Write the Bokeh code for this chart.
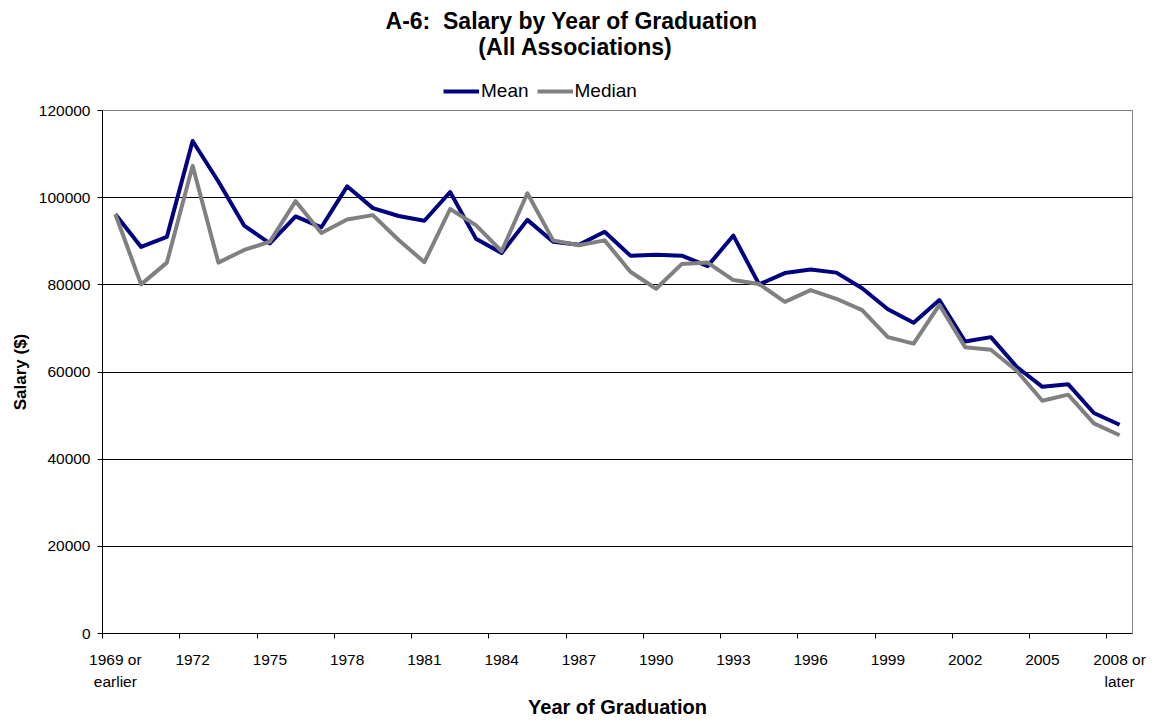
from bokeh.plotting import figure
from bokeh.models import (FixedTicker, Range1d, Label, Legend, LegendItem)
from bokeh.layouts import column
from bokeh.embed import file_html
from bokeh.resources import INLINE

# ---- data ----
categories = ["1969 or earlier"] + [str(y) for y in range(1970, 2008)] + ["2008 or later"]
mean_salary = [96200, 88700, 91000, 113000, 103700, 93600, 89500, 95700, 93200, 102600,
               97600, 95800, 94700, 101300, 90600, 87300, 94900, 89900, 89200, 92200,
               86700, 86900, 86700, 84300, 91300, 80100, 82700, 83500, 82800, 79200,
               74400, 71300, 76500, 67000, 68000, 61200, 56600, 57200, 50600, 47900]
median_salary = [96200, 80100, 85100, 107300, 85100, 88000, 89900, 99200, 91900, 95000,
                 96000, 90300, 85200, 97400, 93700, 87700, 101000, 90200, 89100, 90200,
                 83000, 79100, 84800, 85100, 81100, 80200, 76100, 78800, 76800, 74200,
                 68000, 66500, 75400, 65700, 65100, 60300, 53400, 54800, 48200, 45500]
series_names = ["Mean", "Median"]
series_colors = ["#000080", "#808080"]
y_ticks = [0, 20000, 40000, 60000, 80000, 100000, 120000]
label_step = 3
title_lines = ["A-6:\u00a0 Salary by Year of Graduation", "(All Associations)"]

FONT = "Liberation Sans"
W = 1156
TOTAL_H = 722
HEAD_H = 102
LEFT, RIGHT = 102, 24
x = list(range(len(categories)))

# ---------- header: title + legend ----------
head = figure(width=W, height=HEAD_H, output_backend="svg", toolbar_location=None,
              x_range=Range1d(LEFT, W - RIGHT), y_range=Range1d(HEAD_H, 0),
              x_axis_location=None, y_axis_location=None,
              min_border_left=LEFT, min_border_right=RIGHT,
              min_border_top=0, min_border_bottom=0)
head.grid.visible = False
head.outline_line_color = None
head.title = None

head.add_layout(Label(x=571, y=20, text=title_lines[0], text_align="center",
                      text_baseline="alphabetic", text_font=FONT, text_font_size="23px",
                      text_font_style="bold", text_color="black"))
head.add_layout(Label(x=575, y=46, text=title_lines[1], text_align="center",
                      text_baseline="alphabetic", text_font=FONT, text_font_size="23px",
                      text_font_style="bold", text_color="black"))

nan = float("nan")
dummy = [head.line([nan], [nan], line_color=c, line_width=4) for c in series_colors]
legend = Legend(items=[LegendItem(label=n, renderers=[r]) for n, r in zip(series_names, dummy)],
                orientation="horizontal", location=(341, 0),
                glyph_width=36, glyph_height=20, label_standoff=2, spacing=8,
                padding=0, margin=0, border_line_color=None, background_fill_alpha=0,
                label_text_font=FONT, label_text_font_size="19px", label_text_color="black")
head.add_layout(legend, "center")

# ---------- main chart ----------
p = figure(width=W, height=TOTAL_H - HEAD_H, output_backend="svg", toolbar_location=None,
           x_range=Range1d(-0.5, len(categories) - 0.5), y_range=Range1d(0, 120000),
           min_border_left=LEFT, min_border_right=RIGHT, min_border_top=8, min_border_bottom=89)
p.title = None
p.outline_line_color = "#808080"
p.outline_line_width = 1

p.line(x, mean_salary, line_color=series_colors[0], line_width=4, line_join="round")
p.line(x, median_salary, line_color=series_colors[1], line_width=4, line_join="round")

# x axis
label_pos = list(range(0, len(categories), label_step))
xa = p.xaxis[0]
xa.ticker = FixedTicker(ticks=label_pos, minor_ticks=[t - 0.5 for t in label_pos])
xa.major_label_overrides = {i: categories[i].replace(" or ", " or\n") for i in label_pos}
xa.major_tick_line_color = None
xa.minor_tick_line_color = "black"
xa.minor_tick_in = 0
xa.minor_tick_out = 5
xa.axis_line_color = "black"
xa.major_label_text_font = FONT
xa.major_label_text_font_size = "15.5px"
xa.major_label_text_color = "black"
xa.major_label_text_line_height = 1.35
xa.major_label_standoff = 11
xa.axis_label = "Year of Graduation"
xa.axis_label_text_font = FONT
xa.axis_label_text_font_size = "20px"
xa.axis_label_text_font_style = "bold"
xa.axis_label_text_color = "black"
xa.axis_label_standoff = 3

# y axis
ya = p.yaxis[0]
ya.ticker = FixedTicker(ticks=y_ticks)
ya.minor_tick_line_color = None
ya.major_tick_in = 0
ya.major_tick_out = 5
ya.major_tick_line_color = "black"
ya.axis_line_color = "black"
ya.major_label_text_font = FONT
ya.major_label_text_font_size = "15.5px"
ya.major_label_text_color = "black"
ya.major_label_standoff = 7
ya.axis_label = "Salary ($)"
ya.axis_label_text_font = FONT
ya.axis_label_text_font_size = "17px"
ya.axis_label_text_font_style = "bold"
ya.axis_label_text_color = "black"
ya.axis_label_standoff = 6
ya.formatter.use_scientific = False

p.xgrid.grid_line_color = None
p.ygrid.ticker = FixedTicker(ticks=y_ticks[1:-1])
p.ygrid.grid_line_color = "black"
p.ygrid.grid_line_width = 1

layout = column(head, p, spacing=0)
open("out.html", "w").write(file_html(layout, INLINE))
